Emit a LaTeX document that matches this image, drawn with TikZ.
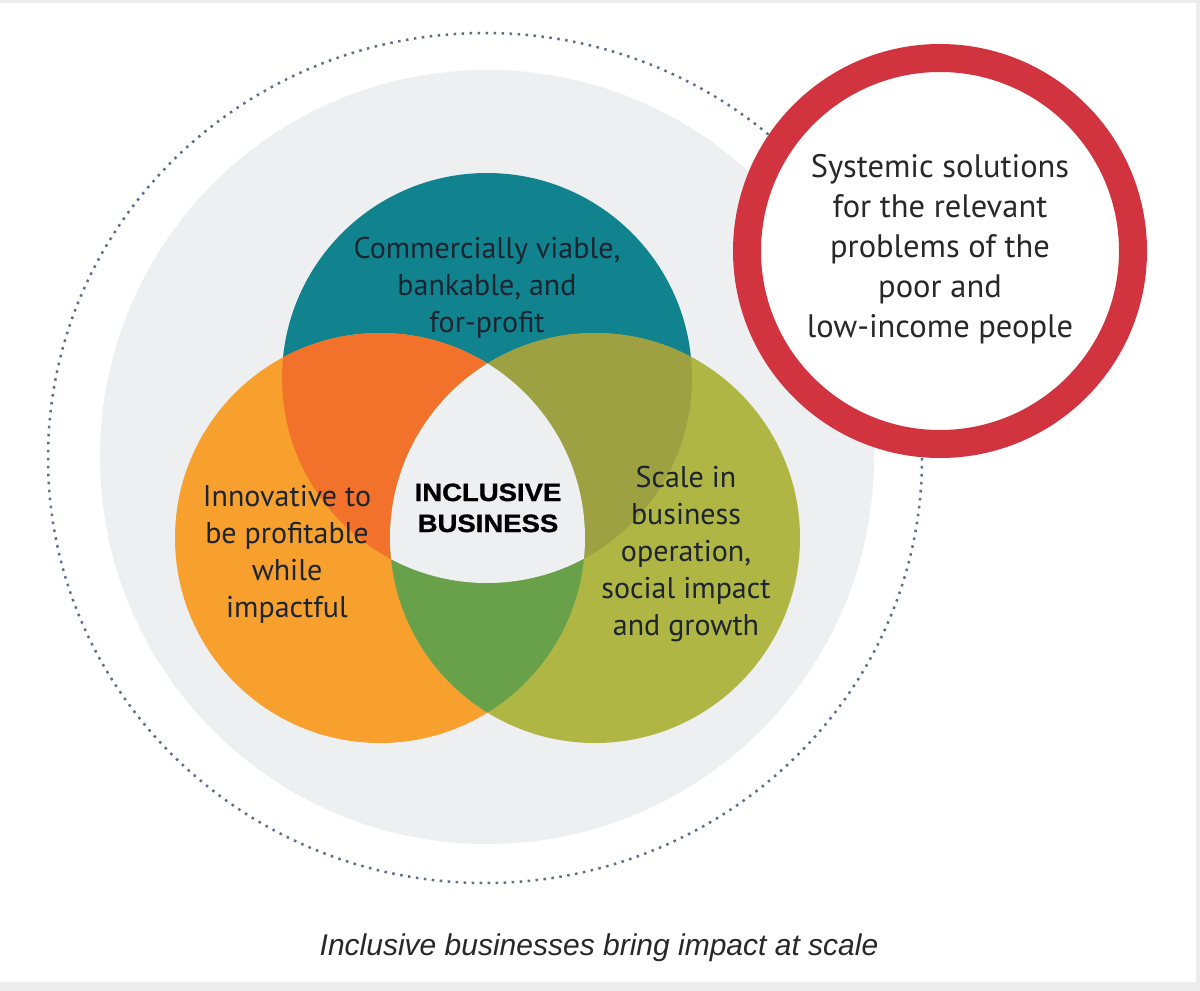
\documentclass[tikz,border=0pt]{standalone}
\usepackage{fontspec}
\usepackage{tikz}
\setmainfont{PT Sans}
\newfontfamily\boldfont[FakeStretch=1.1,FakeBold=1.2]{Liberation Sans}
\newfontfamily\capfont{Liberation Sans}

\definecolor{pagegray}{RGB}{236,236,236}
\definecolor{ringgray}{RGB}{238,239,241}
\definecolor{dotblue}{RGB}{95,110,140}
\definecolor{tealc}{RGB}{16,131,143}
\definecolor{orangec}{RGB}{247,160,45}
\definecolor{olivec}{RGB}{175,182,68}
\definecolor{tealorange}{RGB}{242,114,43}
\definecolor{tealolive}{RGB}{158,161,66}
\definecolor{orangeolive}{RGB}{105,161,74}
\definecolor{redc}{RGB}{209,52,62}
\definecolor{inktext}{RGB}{28,36,48}
\definecolor{greytext}{RGB}{40,40,40}

\tikzset{
  venntext/.style={align=center, text=inktext, inner sep=0pt, anchor=base,
    font=\fontsize{30}{37}\selectfont},
  redtext/.style={align=center, text=greytext, inner sep=0pt, anchor=base,
    font=\fontsize{32.5}{40}\selectfont},
}

\begin{document}
\begin{tikzpicture}[x=1pt, y=-1pt]
	\useasboundingbox (0,0) rectangle (1200,991);
	\fill[pagegray] (0,0) rectangle (1200,991);
	\fill[white] (0,3) rectangle (1196,982);

	%% centres
	\coordinate (outer) at (485,458);
	\coordinate (commercial) at (487,378);
	\coordinate (innovative) at (380,538);
	\coordinate (scale) at (595,538);
	\coordinate (systemic) at (940,251);

	%% dotted ring and grey disc
	\draw[dotblue, line width=2.5pt, dash pattern=on 2.5pt off 5.5pt] (outer) ellipse [x radius=437, y radius=425];
	\fill[ringgray] (487,457) circle [radius=387];

	%% the three sets
	\fill[tealc] (commercial) circle [radius=205];
	\fill[orangec] (innovative) circle [radius=205];
	\fill[olivec] (scale) circle [radius=205];
	\begin{scope}
		\clip (commercial) circle [radius=205];
		\fill[tealorange] (innovative) circle [radius=205];
		\fill[tealolive] (scale) circle [radius=205];
	\end{scope}
	\begin{scope}
		\clip (innovative) circle [radius=205];
		\fill[orangeolive] (scale) circle [radius=205];
	\end{scope}
	\begin{scope}
		\clip (commercial) circle [radius=205];
		\clip (innovative) circle [radius=205];
		\fill[ringgray] (scale) circle [radius=205];
	\end{scope}

	%% red ring
	\filldraw[fill=white, draw=redc, line width=28pt] (systemic) circle [radius=193];

	%% texts (base = last line)
	\node[venntext] (commercialtxt) at (487,332) {Commercially viable,\\bankable, and\\for-profit};
	\node[venntext] (innovativetxt) at (287,617) {Innovative to\\be profitable\\while\\impactful};
	\node[venntext] (scaletxt) at (686,635) {Scale in\\business\\operation,\\social impact\\and growth};
	\node[align=center, inner sep=0pt, anchor=base, font=\boldfont\bfseries\fontsize{25}{31}\selectfont] (inclusivetxt) at (488,532) {INCLUSIVE\\BUSINESS};
	\node[redtext] (systemictxt) at (940,337) {Systemic solutions\\for the relevant\\problems of the\\poor and\\low-income people};

	\node[anchor=base, inner sep=0pt, text=greytext, font=\capfont\itshape\fontsize{30}{36}\selectfont] (caption) at (599,955) {Inclusive businesses bring impact at scale};
\end{tikzpicture}
\end{document}
